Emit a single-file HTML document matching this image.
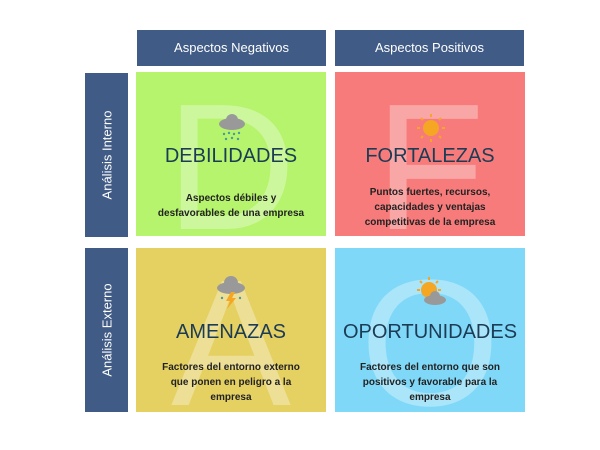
<!DOCTYPE html>
<html><head><meta charset="utf-8"><style>
body{margin:0;width:600px;height:450px;background:#fff;position:relative;overflow:hidden;font-family:"Liberation Sans",sans-serif}
.hdr{position:absolute;background:#405b85;color:#fff;font-size:13px;text-align:center;line-height:36px}
.side{position:absolute;background:#405b85;width:43px}
.side span{position:absolute;left:50%;top:50%;transform:translate(-50%,-50%) rotate(-90deg);color:#fff;font-size:13px;white-space:nowrap}
.q{position:absolute;width:190px;height:164px;overflow:hidden}
.big{position:absolute;left:0;width:190px;text-align:center;font-size:180px;line-height:1;color:rgba(255,255,255,.33);top:6px}
.t{position:absolute;left:0;width:190px;text-align:center;top:73px;font-size:20px;color:#1c3c55}
.d{position:absolute;left:15px;width:160px;text-align:center;font-size:10px;font-weight:bold;line-height:15px;color:#222}
.ic{position:absolute;left:80px;top:42px}
</style></head><body>
<div class="hdr" style="left:137px;top:30px;width:189px;height:36px">Aspectos Negativos</div>
<div class="hdr" style="left:335px;top:30px;width:189px;height:36px">Aspectos Positivos</div>
<div class="side" style="left:85px;top:73px;height:164px"><span>Análisis Interno</span></div>
<div class="side" style="left:85px;top:248px;height:164px"><span>Análisis Externo</span></div>

<div class="q" style="left:136px;top:72px;background:#b5f46c">
<div class="big">D</div>
<svg class="ic" width="32" height="30"><ellipse cx="16" cy="10" rx="13" ry="6" fill="#999"/><circle cx="16" cy="6" r="6" fill="#999"/><g fill="#4a9aa0"><circle cx="8" cy="20" r="1.2"/><circle cx="13" cy="19" r="1.2"/><circle cx="18" cy="20" r="1.2"/><circle cx="23" cy="19" r="1.2"/><circle cx="10" cy="25" r="1.2"/><circle cx="16" cy="24" r="1.2"/><circle cx="22" cy="25" r="1.2"/></g></svg>
<div class="t">DEBILIDADES</div>
<div class="d" style="top:119px">Aspectos débiles y desfavorables de una empresa</div></div>

<div class="q" style="left:335px;top:72px;background:#f77b7b">
<div class="big">F</div>
<svg class="ic" width="32" height="32" style="left:80px;top:40px"><circle cx="16" cy="16" r="8" fill="#f5a623"/><g stroke="#f5a623" stroke-width="2"><line x1="16" y1="2" x2="16" y2="5"/><line x1="16" y1="27" x2="16" y2="30"/><line x1="2" y1="16" x2="5" y2="16"/><line x1="27" y1="16" x2="30" y2="16"/><line x1="6" y1="6" x2="8" y2="8"/><line x1="24" y1="24" x2="26" y2="26"/><line x1="6" y1="26" x2="8" y2="24"/><line x1="24" y1="8" x2="26" y2="6"/></g></svg>
<div class="t">FORTALEZAS</div>
<div class="d" style="top:113px">Puntos fuertes, recursos, capacidades y ventajas competitivas de la empresa</div></div>

<div class="q" style="left:136px;top:248px;background:#e5d062">
<div class="big">A</div>
<svg class="ic" width="34" height="34" style="left:78px;top:28px"><ellipse cx="17" cy="12" rx="14" ry="6" fill="#999"/><circle cx="17" cy="7" r="7" fill="#999"/><polygon points="17,16 12,25 16,25 13,33 22,22 18,22 21,16" fill="#f5a623"/><g fill="#4a9aa0"><circle cx="8" cy="22" r="1.2"/><circle cx="26" cy="22" r="1.2"/></g></svg>
<div class="t">AMENAZAS</div>
<div class="d" style="top:112px;left:22px;width:146px">Factores del entorno externo que ponen en peligro a la empresa</div></div>

<div class="q" style="left:335px;top:248px;background:#80d8f8">
<div class="big">O</div>
<svg class="ic" width="36" height="32" style="left:78px;top:28px"><circle cx="16" cy="14" r="8" fill="#f5a623"/><g stroke="#f5a623" stroke-width="2"><line x1="16" y1="1" x2="16" y2="4"/><line x1="4" y1="14" x2="7" y2="14"/><line x1="7" y1="5" x2="9" y2="7"/><line x1="25" y1="5" x2="23" y2="7"/><line x1="28" y1="14" x2="25" y2="14"/></g><ellipse cx="22" cy="24" rx="11" ry="5" fill="#999"/><circle cx="22" cy="20" r="5" fill="#999"/></svg>
<div class="t">OPORTUNIDADES</div>
<div class="d" style="top:112px">Factores del entorno que son positivos y favorable para la empresa</div></div>
</body></html>
